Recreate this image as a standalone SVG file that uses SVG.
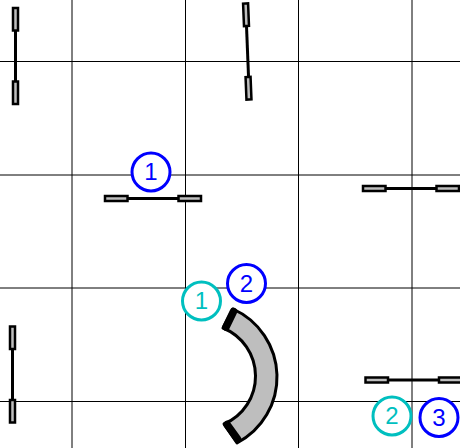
<svg xmlns="http://www.w3.org/2000/svg" width="460" height="448" viewBox="0 0 460 448">
<style>
.g{stroke:#000;stroke-width:1;fill:none}
.b{stroke:#000;stroke-width:3;fill:none}
.p{fill:#bebebe;stroke:#000;stroke-width:2.500}
.c{fill:#fff;stroke-width:3}
.t{font-family:"Liberation Sans",Arial,sans-serif;font-size:24px;text-anchor:middle}
.bl{stroke:#00f}
.cy{stroke:#00bfbf}
.tb{fill:#00f}
.tc{fill:#00bfbf}
</style>
<rect width="460" height="448" fill="#fff"/>
<g id="grid">
<path class="g" d="M72 0V448M185.500 0V448M298.500 0V448M412 0V448M0 61.500H460M0 175H460M0 288H460M0 401.500H460"/>
</g>
<g id="connectors">
<path class="b" d="M15.500 31V81"/>
<path class="b" d="M246.500 26L248.500 76"/>
<path class="b" d="M128 198.500H178"/>
<path class="b" d="M386 188.500H436"/>
<path class="b" d="M12.500 349V399"/>
<path class="b" d="M388 380H438"/>
</g>
<g id="door1"><rect class="p" x="13" y="8" width="5" height="22.500"/><rect class="p" x="13" y="81.500" width="5" height="22.500"/></g>
<g id="door2"><rect class="p" x="243.500" y="3.500" width="5" height="22.500" transform="rotate(-2.300 246 14)"/><rect class="p" x="246" y="77" width="5" height="22.500" transform="rotate(-2.300 248.500 88)"/></g>
<g id="door3"><rect class="p" x="105" y="196" width="22.500" height="5"/><rect class="p" x="178.500" y="196" width="22.500" height="5"/></g>
<g id="door4"><rect class="p" x="363" y="186" width="22.500" height="5"/><rect class="p" x="436.500" y="186" width="22.500" height="5"/></g>
<g id="door5"><rect class="p" x="10" y="326.500" width="5" height="22.500"/><rect class="p" x="10" y="400" width="5" height="22.500"/></g>
<g id="door6"><rect class="p" x="365.500" y="377.500" width="22.500" height="5"/><rect class="p" x="439" y="377.500" width="22.500" height="5"/></g>
<g id="bend">
<path d="M233 309A74.500 74.500 0 0 1 237 443L224 424A52 52 0 0 0 223 328Z" fill="#bebebe" stroke="#000" stroke-width="3" stroke-linejoin="round"/>
<path d="M233.500 311.500L226 327M227 424.500L237.500 439" stroke="#000" stroke-width="7.500" fill="none" stroke-linecap="round"/>
</g>
<g id="label-b1"><circle class="c bl" cx="151" cy="172" r="19"/><text class="t tb" x="151" y="180">1</text></g>
<g id="label-b2"><circle class="c bl" cx="246.500" cy="283.500" r="19"/><text class="t tb" x="246.500" y="291.500">2</text></g>
<g id="label-b3"><circle class="c bl" cx="439" cy="417.500" r="19"/><text class="t tb" x="439" y="425.500">3</text></g>
<g id="label-c1"><circle class="c cy" cx="201.500" cy="301" r="19"/><text class="t tc" x="201.500" y="309">1</text></g>
<g id="label-c2"><circle class="c cy" cx="392" cy="416" r="19"/><text class="t tc" x="392" y="424">2</text></g>
</svg>
